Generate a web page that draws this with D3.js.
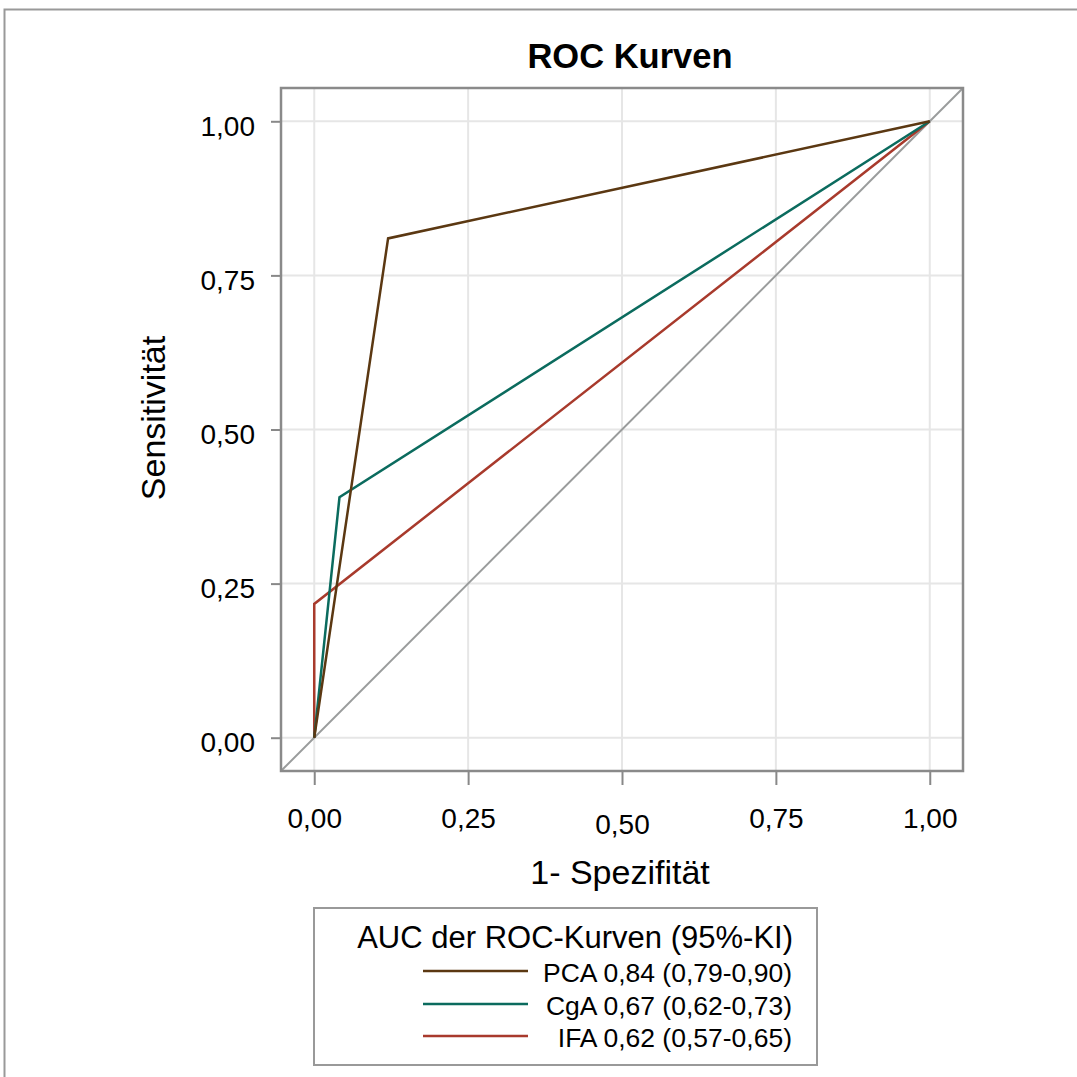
<!DOCTYPE html>
<html><head><meta charset="utf-8">
<script src="https://cdn.jsdelivr.net/npm/d3@7"></script>
<style>body{margin:0;background:#fff}svg{display:block;font-family:"Liberation Sans",Arial,sans-serif}</style>
</head><body><svg id="c" width="1077" height="1077"></svg>
<script>
const seriesNames = ["PCA", "CgA", "IFA"];
const legendLabels = ["PCA 0,84 (0,79-0,90)", "CgA 0,67 (0,62-0,73)", "IFA 0,62 (0,57-0,65)"];
const seriesColors = ["#5b3812", "#0b6b5e", "#a83a2c"];
const pcaPoints = [[0, 0], [0.12, 0.81], [1, 1]];
const cgaPoints = [[0, 0], [0.041, 0.39], [1, 1]];
const ifaPoints = [[0, 0], [0, 0.217], [1, 1]];
const tickValues = [0, 0.25, 0.5, 0.75, 1];
const tickLabels = ["0,00", "0,25", "0,50", "0,75", "1,00"];
const domainMin = -0.054, domainMax = 1.054;

const svg = d3.select("#c");
const L = 281, R = 963, T = 88, B = 771;
const x = d3.scaleLinear().domain([domainMin, domainMax]).range([L, R]);
const y = d3.scaleLinear().domain([domainMin, domainMax]).range([B, T]);
const FF = "Liberation Sans, Arial, sans-serif";

// outer frame
svg.append("path").attr("d", "M4.5,1077 V9.5 H1077").attr("fill", "none").attr("stroke", "#999").attr("stroke-width", 2);

// title
svg.append("text").attr("x", 630).attr("y", 68).attr("text-anchor", "middle")
  .attr("font-size", 34.5).attr("font-weight", "bold").text("ROC Kurven");

// grid
const g = svg.append("g");
g.selectAll(".gx").data(tickValues).join("line")
  .attr("x1", d => x(d)).attr("x2", d => x(d)).attr("y1", T).attr("y2", B)
  .attr("stroke", "#e6e6e6").attr("stroke-width", 2);
g.selectAll(".gy").data(tickValues).join("line")
  .attr("y1", d => y(d)).attr("y2", d => y(d)).attr("x1", L).attr("x2", R)
  .attr("stroke", "#e6e6e6").attr("stroke-width", 2);

// axes
const xAxis = d3.axisBottom(x).tickValues(tickValues).tickSize(14).tickFormat((d, i) => tickLabels[i]);
const yAxis = d3.axisLeft(y).tickValues(tickValues).tickSize(10).tickFormat((d, i) => tickLabels[i]);
const gx = svg.append("g").attr("transform", `translate(0,${B})`).call(xAxis);
gx.select(".domain").remove();
gx.selectAll(".tick line").attr("stroke", "#888").attr("stroke-width", 2);
gx.selectAll(".tick text").attr("font-size", 28).attr("fill", "#000").attr("font-family", FF)
  .attr("y", (d, i) => i === 2 ? 63 : 57).attr("dy", 0);
const gy = svg.append("g").attr("transform", `translate(${L},0)`).call(yAxis);
gy.select(".domain").remove();
gy.selectAll(".tick line").attr("stroke", "#888").attr("stroke-width", 2);
gy.selectAll(".tick text").attr("font-size", 28).attr("fill", "#000").attr("font-family", FF)
  .attr("x", -26).attr("dy", "0.5em");

// axis titles
svg.append("text").attr("x", 620).attr("y", 884).attr("text-anchor", "middle").attr("font-size", 34).text("1- Spezifität");
svg.append("text").attr("transform", "translate(165,418) rotate(-90)").attr("text-anchor", "middle").attr("font-size", 34).text("Sensitivität");

// clip
svg.append("clipPath").attr("id", "pc").append("rect").attr("x", L).attr("y", T).attr("width", R - L).attr("height", B - T);

// diagonal
svg.append("line").attr("clip-path", "url(#pc)")
  .attr("x1", x(domainMin)).attr("y1", y(domainMin)).attr("x2", x(domainMax)).attr("y2", y(domainMax))
  .attr("stroke", "#9a9c9c").attr("stroke-width", 2);

const line = d3.line().x(d => x(d[0])).y(d => y(d[1]));
const allPts = [ifaPoints, cgaPoints, pcaPoints];
const allCols = [seriesColors[2], seriesColors[1], seriesColors[0]];
allPts.forEach((p, i) => {
  svg.append("path").attr("d", line(p)).attr("fill", "none").attr("stroke", allCols[i]).attr("stroke-width", 2.5);
});

// plot frame
svg.append("rect").attr("x", L).attr("y", T).attr("width", R - L).attr("height", B - T)
  .attr("fill", "none").attr("stroke", "#8a8a8a").attr("stroke-width", 2.5);

// legend
svg.append("rect").attr("x", 314).attr("y", 908).attr("width", 503).attr("height", 157)
  .attr("fill", "#fff").attr("stroke", "#999").attr("stroke-width", 2);
svg.append("text").attr("x", 793).attr("y", 948).attr("text-anchor", "end").attr("font-size", 31).text("AUC der ROC-Kurven (95%-KI)");
const ly = [971, 1004, 1036];
seriesNames.forEach((s, i) => {
  svg.append("line").attr("x1", 423).attr("x2", 528).attr("y1", ly[i]).attr("y2", ly[i])
    .attr("stroke", seriesColors[i]).attr("stroke-width", 2.5);
  svg.append("text").attr("x", 792).attr("y", ly[i] + 10.5).attr("text-anchor", "end").attr("font-size", 26.5).text(legendLabels[i]);
});
</script></body></html>
